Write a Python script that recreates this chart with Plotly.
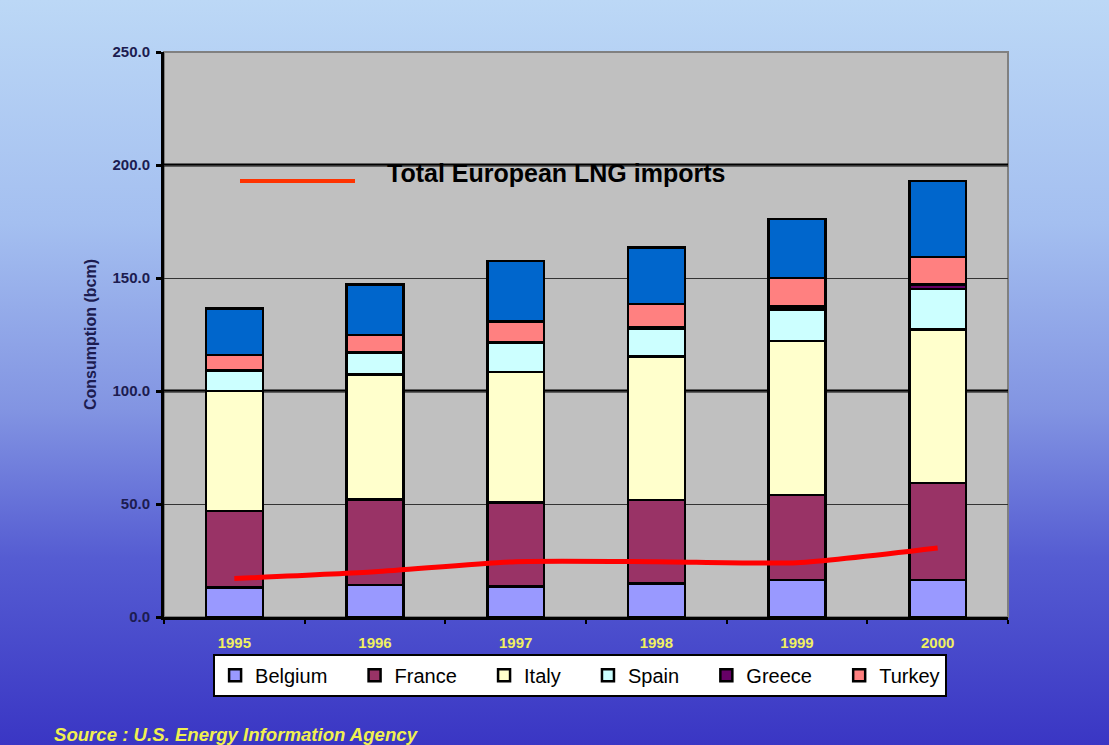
import plotly.graph_objects as go

# Annual LNG consumption by country (bcm)
years = ["1995", "1996", "1997", "1998", "1999", "2000"]
belgium = [13.0, 14.2, 13.4, 14.9, 16.4, 16.4]
france = [34.0, 37.9, 37.2, 36.9, 37.6, 42.8]
italy = [53.0, 55.3, 57.9, 63.4, 68.1, 68.1]
spain = [9.0, 9.6, 12.9, 12.3, 14.0, 17.8]
greece = [0.0, 0.0, 0.0, 0.5, 1.2, 2.0]
turkey = [7.0, 7.8, 9.3, 10.5, 12.8, 12.3]
other = [20.5, 22.4, 26.8, 25.0, 26.0, 33.5]

# Total European LNG imports (bcm)
lng_imports = [17.0, 20.0, 24.5, 24.5, 24.0, 30.5]

y_ticks = [0, 50, 100, 150, 200, 250]

FONT = "Arial, Liberation Sans, sans-serif"
PAD = "\u00a0" * 4  # extra room after each legend label

series = [
    ("Belgium", belgium, "#9999ff", True),
    ("France", france, "#993366", True),
    ("Italy", italy, "#ffffcc", True),
    ("Spain", spain, "#ccffff", True),
    ("Greece", greece, "#660066", True),
    ("Turkey", turkey, "#ff8080", True),
    ("Other", other, "#0066cc", False),
]

fig = go.Figure()
for name, vals, color, show in series:
    fig.add_trace(go.Bar(
        x=years, y=vals, name=name + (PAD if name != "Turkey" else ""), showlegend=show,
        marker=dict(color=color, line=dict(color="black", width=2.5)),
    ))

fig.add_trace(go.Scatter(
    x=years, y=lng_imports, mode="lines", showlegend=False,
    name="Total European LNG imports",
    line=dict(color="#ff0000", width=5, shape="spline", smoothing=0.6),
))

# Page background: vertical blue gradient
gradient_svg = (
    "data:image/svg+xml;utf8,"
    "<svg xmlns='http://www.w3.org/2000/svg' width='100' height='100' preserveAspectRatio='none'>"
    "<defs><linearGradient id='g' x1='0' y1='0' x2='0' y2='1'>"
    "<stop offset='0' stop-color='%23bcd8f6'/>"
    "<stop offset='0.3' stop-color='%23a4bff0'/>"
    "<stop offset='0.55' stop-color='%238294e2'/>"
    "<stop offset='0.75' stop-color='%23555cd2'/>"
    "<stop offset='1' stop-color='%233a36c4'/>"
    "</linearGradient></defs>"
    "<rect width='100' height='100' fill='url(%23g)'/></svg>"
)

W, H = 1109, 745
ML, MR, MT, MB = 164, 101, 52, 128
pw, ph = W - ML - MR, H - MT - MB

fig.add_layout_image(dict(
    source=gradient_svg, xref="paper", yref="paper",
    x=-ML / pw, y=1 + MT / ph, sizex=W / pw, sizey=H / ph,
    sizing="stretch", xanchor="left", yanchor="top", layer="below",
))

shapes = [
    # grey plotting area
    dict(type="rect", xref="paper", yref="paper", x0=0, x1=1, y0=0, y1=1,
         fillcolor="#c0c0c0", line=dict(color="#808080", width=2), layer="below"),
]
# heavier gridlines at 100 and 200
for gv in (100, 200):
    shapes.append(dict(type="line", xref="paper", yref="y", x0=0, x1=1, y0=gv, y1=gv,
                       line=dict(color="black", width=3), layer="between"))
# legend sample for the red line
shapes.append(dict(type="line", xref="paper", yref="paper",
                   x0=(240 - ML) / pw, x1=(355 - ML) / pw,
                   y0=(617 - 181) / ph, y1=(617 - 181) / ph,
                   line=dict(color="#ff3300", width=4), layer="above"))

fig.update_layout(
    width=W, height=H,
    margin=dict(l=ML, r=MR, t=MT, b=MB),
    barmode="stack", bargap=0.596,
    paper_bgcolor="#3a36c4", plot_bgcolor="rgba(0,0,0,0)",
    font=dict(family=FONT, color="black"),
    shapes=shapes,
    legend=dict(
        orientation="h", x=0.493, y=-0.103, xanchor="center", yanchor="middle",
        bgcolor="white", bordercolor="black", borderwidth=2,
        font=dict(family=FONT, size=20, color="black"),
        traceorder="normal", itemclick=False, itemwidth=30,
    ),
    annotations=[
        dict(text="<b>Total European LNG imports</b>", xref="paper", yref="paper",
             x=(385 - ML) / pw, y=(617 - 173) / ph, xanchor="left", yanchor="middle",
             showarrow=False, font=dict(family=FONT, size=25, color="black")),
        dict(text="<b><i>Source : U.S. Energy Information Agency</i></b>", xref="paper", yref="paper",
             x=(52 - ML) / pw, y=(617 - 734) / ph, xanchor="left", yanchor="middle",
             showarrow=False, font=dict(family=FONT, size=18.6, color="#f0f050")),
    ],
)

fig.update_xaxes(
    type="category", tickvals=years, ticktext=[f"<b>{y}</b>" for y in years],
    tickfont=dict(family=FONT, size=15, color="#f0f060"),
    showline=True, linecolor="black", linewidth=3,
    ticks="outside", tickson="boundaries", ticklen=4, tickwidth=2, tickcolor="black",
    ticklabelstandoff=10, showgrid=False,
)
fig.update_yaxes(
    range=[0, 250], tickvals=y_ticks, ticktext=[f"<b>{v:.1f}</b>" for v in y_ticks],
    tickfont=dict(family=FONT, size=15, color="#1c1c50"),
    showline=True, linecolor="black", linewidth=3,
    ticks="outside", ticklen=5, tickwidth=3, tickcolor="black",
    ticklabelstandoff=3,
    showgrid=True, gridcolor="#333333", gridwidth=1.3, zeroline=False,
    title=dict(text="<b>Consumption (bcm)</b>", standoff=12,
               font=dict(family=FONT, size=16, color="#1c1c50")),
)

fig.write_html("out.html")
